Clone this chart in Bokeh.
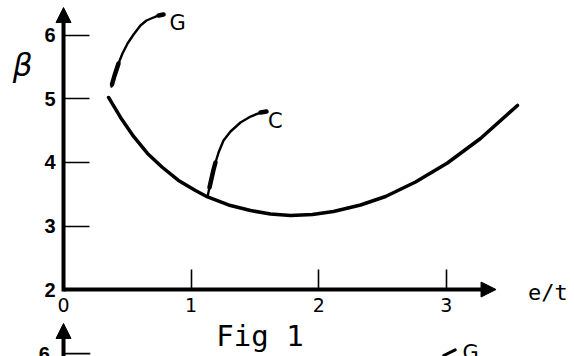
from bokeh.plotting import figure
from bokeh.models import Range1d, FixedTicker, Arrow, NormalHead
from bokeh.core.properties import value
from bokeh.embed import file_html
from bokeh.resources import INLINE

# ---- data ----
E_CURVE = [0.353, 0.447, 0.549, 0.658, 0.776, 0.901, 1.034, 1.129, 1.293, 1.466,
           1.622, 1.779, 1.951, 2.116, 2.328, 2.524, 2.759, 3.009, 3.268, 3.558]
B_CURVE = [5.024, 4.709, 4.410, 4.142, 3.921, 3.717, 3.559, 3.457, 3.331, 3.244,
           3.189, 3.165, 3.181, 3.228, 3.331, 3.465, 3.693, 3.992, 4.378, 4.898]

X_TICKS = [0, 1, 2, 3]
X_TICK_LABELS = ["0", "1", "2", "3"]
Y_TICKS = [2, 3, 4, 5, 6]
Y_TICK_LABELS = ["2", "3", "4", "5", "6"]

# leader for label G
G_LEAD_E = [0.376, 0.400, 0.431, 0.462, 0.502, 0.549, 0.603, 0.650, 0.705, 0.745, 0.784]
G_LEAD_B = [5.197, 5.370, 5.559, 5.717, 5.874, 6.016, 6.157, 6.236, 6.283, 6.315, 6.331]
G_WEDGE_E = [0.380, 0.400, 0.431]
G_WEDGE_B = [5.230, 5.370, 5.559]
G_TIP_E = [0.745, 0.784]
G_TIP_B = [6.315, 6.331]
# leader for label C
C_LEAD_E = [1.129, 1.144, 1.160, 1.176, 1.191, 1.215, 1.254, 1.309, 1.387, 1.466, 1.544, 1.591]
C_LEAD_B = [3.465, 3.606, 3.748, 3.890, 4.000, 4.157, 4.346, 4.488, 4.630, 4.724, 4.787, 4.803]
C_WEDGE_E = [1.144, 1.160, 1.176, 1.191]
C_WEDGE_B = [3.606, 3.748, 3.890, 4.000]
C_TIP_E = [1.544, 1.591]
C_TIP_B = [4.787, 4.803]

LABEL_TEXT = ["G", "C"]
LABEL_E = [0.895, 1.66]
LABEL_B = [6.19, 4.66]

X_AXIS_END = 3.39
Y_AXIS_END = 6.44
X_AXIS_NAME = "e/t"
Y_AXIS_NAME = "\u03b2"
CAPTION = "Fig 1"

# second (cut-off) figure below
FIG2_AXIS_END = 1.465
FIG2_TICK = 0.99
FIG2_TICK_LABEL = "6"
FIG2_LABEL = "G"
FIG2_LABEL_E = 3.19
FIG2_LABEL_B = 1.0
FIG2_LEAD_E = [2.98, 3.07]
FIG2_LEAD_B = [0.96, 1.05]

p = figure(width=574, height=356,
           x_range=Range1d(-0.494, 4.005), y_range=Range1d(0.945, 6.551),
           output_backend="svg", toolbar_location=None, min_border=0)
p.outline_line_color = None
p.grid.visible = False
p.background_fill_color = "white"

# axes at fixed locations (origin 0, 2)
xa = p.xaxis[0]
xa.fixed_location = 2
xa.ticker = FixedTicker(ticks=X_TICKS)
xa.major_label_overrides = {t: l for t, l in zip(X_TICKS, X_TICK_LABELS)}
xa.axis_line_color = None
xa.major_tick_in = 20
xa.major_tick_out = 0
xa.major_tick_line_width = 1.6
xa.major_tick_line_color = "black"
xa.minor_tick_line_color = None
xa.major_label_standoff = 8
xa.major_label_text_font = "DejaVu Sans"
xa.major_label_text_font_size = "19px"
xa.major_label_text_color = "black"

ya = p.yaxis[0]
ya.fixed_location = 0
ya.ticker = FixedTicker(ticks=Y_TICKS)
ya.major_label_overrides = {t: l for t, l in zip(Y_TICKS, Y_TICK_LABELS)}
ya.axis_line_color = None
ya.major_tick_in = 26
ya.major_tick_out = 0
ya.major_tick_line_width = 1.6
ya.major_tick_line_color = "black"
ya.minor_tick_line_color = None
ya.major_label_standoff = 8
ya.major_label_text_font = "Liberation Sans"
ya.major_label_text_font_style = "bold"
ya.major_label_text_font_size = "20px"
ya.major_label_text_color = "black"

def head():
    return NormalHead(size=15, fill_color="black", line_color="black", line_width=1)

# axis lines with arrow heads
p.add_layout(Arrow(end=head(), x_start=X_TICKS[0], y_start=Y_TICKS[0], x_end=X_AXIS_END,
                   y_end=Y_TICKS[0], line_width=4, line_color="black"))
p.add_layout(Arrow(end=head(), x_start=X_TICKS[0], y_start=Y_TICKS[0] - 0.03, x_end=X_TICKS[0],
                   y_end=Y_AXIS_END, line_width=4, line_color="black"))
# second figure's axis (cut off at bottom)
p.add_layout(Arrow(end=head(), x_start=X_TICKS[0], y_start=0.8, x_end=X_TICKS[0],
                   y_end=FIG2_AXIS_END, line_width=4, line_color="black"))
p.segment(x0=[X_TICKS[0]], y0=[FIG2_TICK], x1=[0.21], y1=[FIG2_TICK],
          line_width=1.6, line_color="black")
p.text(x=[-0.15], y=[FIG2_TICK], text=[FIG2_TICK_LABEL], text_font=value("Liberation Sans"),
       text_font_style="bold", text_font_size="20px", text_align="center",
       text_baseline="middle", text_color="black")

# main curve
p.line(E_CURVE, B_CURVE, line_width=3.5, line_color="black", line_join="round", line_cap="round")

# leaders
p.line(G_LEAD_E, G_LEAD_B, line_width=2.4, line_color="black", line_cap="round", line_join="round")
p.line(G_WEDGE_E, G_WEDGE_B, line_width=4.5, line_color="black", line_cap="round", line_join="round")
p.line(G_TIP_E, G_TIP_B, line_width=4.5, line_color="black", line_cap="round")
p.line(C_LEAD_E, C_LEAD_B, line_width=2.4, line_color="black", line_cap="round", line_join="round")
p.line(C_WEDGE_E, C_WEDGE_B, line_width=4.5, line_color="black", line_cap="round", line_join="round")
p.line(C_TIP_E, C_TIP_B, line_width=4.5, line_color="black", line_cap="round")
p.line(FIG2_LEAD_E, FIG2_LEAD_B, line_width=3, line_color="black", line_cap="round")

# labels
p.text(x=LABEL_E, y=LABEL_B, text=LABEL_TEXT, text_font=value("DejaVu Sans"),
       text_font_size="21px", text_align="center", text_baseline="middle", text_color="black")
p.text(x=[3.64], y=[1.96], text=[X_AXIS_NAME], text_font=value("DejaVu Sans Mono"),
       text_font_size="22px", text_align="left", text_baseline="middle", text_color="black")
p.text(x=[-0.32], y=[5.53], text=[Y_AXIS_NAME], text_font=value("DejaVu Sans"),
       text_font_style="italic", text_font_size="31px", text_align="center",
       text_baseline="middle", text_color="black")
p.text(x=[1.54], y=[1.26], text=[CAPTION], text_font=value("DejaVu Sans Mono"),
       text_font_size="29px", text_align="center", text_baseline="alphabetic", text_color="black")
p.text(x=[FIG2_LABEL_E], y=[FIG2_LABEL_B], text=[FIG2_LABEL], text_font=value("DejaVu Sans"),
       text_font_size="21px", text_align="center", text_baseline="middle", text_color="black")

open("out.html", "w").write(file_html(p, INLINE))
